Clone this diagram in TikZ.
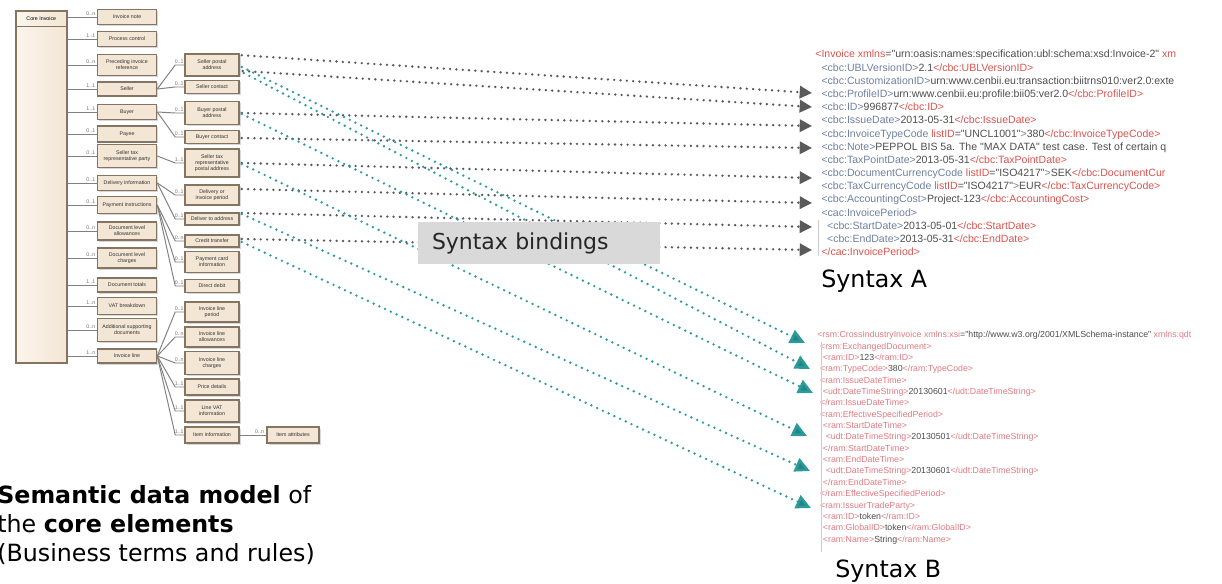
\documentclass[tikz,border=0pt]{standalone}
\usepackage{fontspec}
\setmainfont{DejaVu Sans}
\newfontfamily\xmlfont{Liberation Sans}
\usepackage{xcolor}
\usetikzlibrary{arrows.meta,positioning,calc,shadows}

\definecolor{umlfill}{HTML}{F3E6D4}
\definecolor{umllite}{HTML}{FBF5EC}
\definecolor{umlline}{HTML}{85745F}
\definecolor{treeline}{HTML}{808080}
\definecolor{linkgray}{HTML}{5A5A5A}
\definecolor{linkteal}{HTML}{2B9A9A}
\definecolor{tagred}{HTML}{D9534F}
\definecolor{tagpink}{HTML}{E07A82}
\definecolor{tagblue}{HTML}{6F7FA0}
\definecolor{xmltext}{HTML}{4D4D4D}
\definecolor{bindfill}{HTML}{D9D9D9}

\newcommand{\umlfont}{\xmlfont\fontsize{3}{3.5}\selectfont}
\newcommand{\lblfont}{\fontsize{13.5}{16.4}\selectfont}
\newcommand{\xop}[1]{\textcolor{tagblue}{#1}}
\newcommand{\xcl}[1]{\textcolor{tagred}{#1}}
\newcommand{\xpk}[1]{\textcolor{tagpink}{#1}}
\newcommand{\inda}{\hspace*{3.5pt}}
\newcommand{\indb}{\hspace*{1.6pt}}

\begin{document}
\begin{tikzpicture}[x=0.2mm, y=-0.2mm,
    umlbox/.style={draw=umlline, line width=0.9pt, fill=umlfill, font=\umlfont,
      text=black!80, align=center, inner sep=0.4pt,
      drop shadow={shadow xshift=0.3mm, shadow yshift=-0.3mm, fill=black!30}},
    colone/.style={umlbox, minimum width=11.8mm},
    coltwo/.style={umlbox, minimum width=10.8mm},
    tree/.style={draw=treeline, line width=0.55pt},
    mult/.style={font=\umlfont, text=black!55, inner sep=0.6pt},
    linkA/.style={draw=linkgray, line width=1.5pt, line cap=round,
      dash pattern=on 0pt off 3.6pt,
      -{Triangle[length=7pt, width=7pt, fill=linkgray]}},
    linkB/.style={draw=linkteal, line width=1.5pt, line cap=round,
      dash pattern=on 0pt off 3.6pt,
      -{Triangle[length=8.5pt, width=8pt, fill=linkteal!85!black]}},
    xmlA/.style={anchor=north west, align=left, inner sep=0pt, text=xmltext,
      font=\xmlfont\fontsize{6}{7.5}\selectfont},
    xmlB/.style={anchor=north west, align=left, inner sep=0pt, text=xmltext,
      font=\xmlfont\fontsize{5}{6.46}\selectfont},
    bindbox/.style={fill=bindfill, text width=42.8mm, inner xsep=2.8mm, align=left,
      minimum height=8.2mm, font=\fontsize{12.5}{15}\selectfont, text=black!85}]

  \useasboundingbox (0,0) rectangle (1222,584);

  % Core invoice class
  \node[umlbox, left color=umllite, right color=umlfill, minimum width=10.2mm,
        minimum height=70.4mm, anchor=north west] (core) at (15,10) {};
  \node[font=\umlfont, minimum height=3.2mm, anchor=north] (coretitle) at (core.north) {Core Invoice};
  \draw[umlline, line width=0.6pt] (core.west |- coretitle.south) -- (core.east |- coretitle.south);

  % First level
  \foreach \n/\y/\h/\m/\t in {
      inote/17/15/0..n/{Invoice note},
      pctrl/39/15/1..1/{Process control},
      prec/65/21/0..n/{Preceding invoice\\reference},
      seller/89/14/1..1/{Seller},
      buyer/112/15/1..1/{Buyer},
      payee/134/16/0..1/{Payee},
      staxrep/156/23/0..1/{Seller tax\\representative party},
      delinfo/183/15/0..1/{Delivery information},
      payinstr/205/17/0..1/{Payment instructions},
      dallow/231/18/0..n/{Document level\\allowances},
      dcharge/258/20/0..n/{Document level\\charges},
      dtotal/285/14/1..1/{Document totals},
      vatbd/306/17/1..n/{VAT breakdown},
      addsup/330/23/0..n/{Additional supporting\\documents},
      invline/356/14/1..n/{Invoice line}}{
    \node[colone, minimum height=\h*0.2mm] (\n) at (127,\y) {\t};
    \draw[tree] (core.east |- \n.west) -- node[mult, above, pos=0.8] {\m} (\n.west);
  }

  % Second level
  \foreach \n/\p/\y/\h/\m/\t in {
      sellpost/seller/65/22/0..1/{Seller postal\\address},
      sellcont/seller/87/13/0..1/{Seller contact},
      buypost/buyer/113/23/0..1/{Buyer postal\\address},
      buycont/buyer/137/13/0..1/{Buyer contact},
      staxpost/staxrep/163/28/1..1/{Seller tax\\representative\\postal address},
      delper/delinfo/195/20/0..1/{Delivery or\\invoice period},
      delto/delinfo/219/12/0..1/{Deliver to address},
      credtr/payinstr/241/12/0..n/{Credit transfer},
      paycard/payinstr/262/21/0..1/{Payment card\\information},
      ddebit/payinstr/286/13/0..1/{Direct debit},
      lper/invline/312/20/0..1/{Invoice line\\period},
      lallow/invline/337/20/0..n/{Invoice line\\allowances},
      lcharge/invline/363/23/0..n/{Invoice line\\charges},
      lprice/invline/387/16/1..1/{Price details},
      lvat/invline/411/22/1..1/{Line VAT\\information},
      item/invline/435/16/1..1/{Item information}}{
    \node[coltwo, minimum height=\h*0.2mm] (\n) at (212,\y) {\t};
    \draw[tree] (\p.east) -- ($(\n.west)+(-9,0)$) -- node[mult, above, pos=0.45] {\m} (\n.west);
  }

  \node[coltwo, minimum width=10.4mm, minimum height=3.2mm] (itemattr) at (293,435) {Item attributes};
  \draw[tree] (item.east) -- node[mult, above, pos=0.75] {0..n} (itemattr.west);

  % Arrow ends at the syntaxes
  \coordinate (pA1) at (812,93);
  \coordinate (pA2) at (812,107);
  \coordinate (pA3) at (812,126);
  \coordinate (pA4) at (812,148);
  \coordinate (pA5) at (812,178);
  \coordinate (pA6) at (812,203);
  \coordinate (pA7) at (812,227);
  \coordinate (pA8) at (812,250);
  \coordinate (pB1) at (805,343);
  \coordinate (pB2) at (810,369);
  \coordinate (pB3) at (813,393);
  \coordinate (pB4) at (807,436);
  \coordinate (pB5) at (810,471);
  \coordinate (pB6) at (811,508);

  % Bindings to syntax A
  \draw[linkA] ($(sellpost.north east)+(2,2)$) -- (pA1);
  \draw[linkA] ($(sellpost.east)+(3,6)$) -- (pA2);
  \draw[linkA] ($(buypost.east)+(2,0)$) -- (pA3);
  \draw[linkA] ($(buycont.east)+(2,1)$) -- (pA4);
  \draw[linkA] ($(staxpost.east)+(2,0)$) -- (pA5);
  \draw[linkA] ($(delper.east)+(2,-6)$) -- (pA6);
  \draw[linkA] ($(delto.east)+(2,-6)$) -- (pA7);
  \draw[linkA] ($(credtr.east)+(2,-2)$) -- (pA8);

  % Bindings to syntax B
  \draw[linkB] ($(sellpost.east)+(2,2)$) -- (pB1);
  \draw[linkB] ($(sellpost.east)+(4,8)$) -- (pB2);
  \draw[linkB] ($(buypost.east)+(2,1)$) -- (pB3);
  \draw[linkB] ($(staxpost.east)+(2,1)$) -- (pB4);
  \draw[linkB] ($(delto.east)+(2,-5)$) -- (pB5);
  \draw[linkB] ($(credtr.east)+(2,1)$) -- (pB6);

  % Label box over the links
  \node[bindbox] (bind) at (539,243) {Syntax bindings};

  % XML samples
  \node[xmlA] (xmlAtext) at (815,50) {%
    \xcl{<Invoice xmlns}="urn:oasis:names:specification:ubl:schema:xsd:Invoice-2" \xcl{xm}\\
    \inda\xop{<cbc:UBLVersionID>}2.1\xcl{</cbc:UBLVersionID>}\\
    \inda\xop{<cbc:CustomizationID>}urn:www.cenbii.eu:transaction:biitrns010:ver2.0:exte\\
    \inda\xop{<cbc:ProfileID>}urn:www.cenbii.eu:profile:bii05:ver2.0\xcl{</cbc:ProfileID>}\\
    \inda\xop{<cbc:ID>}996877\xcl{</cbc:ID>}\\
    \inda\xop{<cbc:IssueDate>}2013-05-31\xcl{</cbc:IssueDate>}\\
    \inda\xop{<cbc:InvoiceTypeCode} \xcl{listID}="UNCL1001"\xop{>}380\xcl{</cbc:InvoiceTypeCode>}\\
    \inda\xop{<cbc:Note>}PEPPOL BIS 5a. The "MAX DATA" test case. Test of certain q\\
    \inda\xop{<cbc:TaxPointDate>}2013-05-31\xcl{</cbc:TaxPointDate>}\\
    \inda\xop{<cbc:DocumentCurrencyCode} \xcl{listID}="ISO4217"\xop{>}SEK\xcl{</cbc:DocumentCur}\\
    \inda\xop{<cbc:TaxCurrencyCode} \xcl{listID}="ISO4217"\xop{>}EUR\xcl{</cbc:TaxCurrencyCode>}\\
    \inda\xop{<cbc:AccountingCost>}Project-123\xcl{</cbc:AccountingCost>}\\
    \inda\xop{<cac:InvoicePeriod>}\\
    \inda\indb\indb\xop{<cbc:StartDate>}2013-05-01\xcl{</cbc:StartDate>}\\
    \inda\indb\indb\xop{<cbc:EndDate>}2013-05-31\xcl{</cbc:EndDate>}\\
    \inda\xcl{</cac:InvoicePeriod>}};
  \node[xmlB] (xmlBtext) at (817,331) {%
    \xpk{<rsm:CrossIndustryInvoice} \xpk{xmlns:xsi}="http://www.w3.org/2001/XMLSchema-instance" \xpk{xmlns:qdt}\\
    \indb\xpk{<rsm:ExchangedDocument>}\\
    \indb\indb\xpk{<ram:ID>}123\xpk{</ram:ID>}\\
    \indb\xpk{<ram:TypeCode>}380\xpk{</ram:TypeCode>}\\
    \indb\xpk{<ram:IssueDateTime>}\\
    \indb\indb\xpk{<udt:DateTimeString>}20130601\xpk{</udt:DateTimeString>}\\
    \indb\xpk{</ram:IssueDateTime>}\\
    \indb\xpk{<ram:EffectiveSpecifiedPeriod>}\\
    \indb\indb\xpk{<ram:StartDateTime>}\\
    \indb\indb\indb\xpk{<udt:DateTimeString>}20130501\xpk{</udt:DateTimeString>}\\
    \indb\indb\xpk{</ram:StartDateTime>}\\
    \indb\indb\xpk{<ram:EndDateTime>}\\
    \indb\indb\indb\xpk{<udt:DateTimeString>}20130601\xpk{</udt:DateTimeString>}\\
    \indb\indb\xpk{</ram:EndDateTime>}\\
    \indb\xpk{</ram:EffectiveSpecifiedPeriod>}\\
    \indb\xpk{<ram:IssuerTradeParty>}\\
    \indb\indb\xpk{<ram:ID>}token\xpk{</ram:ID>}\\
    \indb\indb\xpk{<ram:GlobalID>}token\xpk{</ram:GlobalID>}\\
    \indb\indb\xpk{<ram:Name>}String\xpk{</ram:Name>}};
  \draw[black!20, line width=0.4pt] (818,220) -- (818,256);
  \draw[black!20, line width=0.4pt] (821,342) -- (821,552);

  % Captions
  \node[anchor=base west, font=\lblfont, inner sep=0pt] (synA) at (821,287) {Syntax A};
  \node[anchor=base west, font=\lblfont, inner sep=0pt] (synB) at (835,577) {Syntax B};
  \node[anchor=north west, align=left, font=\lblfont, inner sep=0pt] (semlbl) at (-3,485)
    {\textbf{Semantic data model} of\\the \textbf{core elements}\\(Business terms and rules)};
\end{tikzpicture}
\end{document}
